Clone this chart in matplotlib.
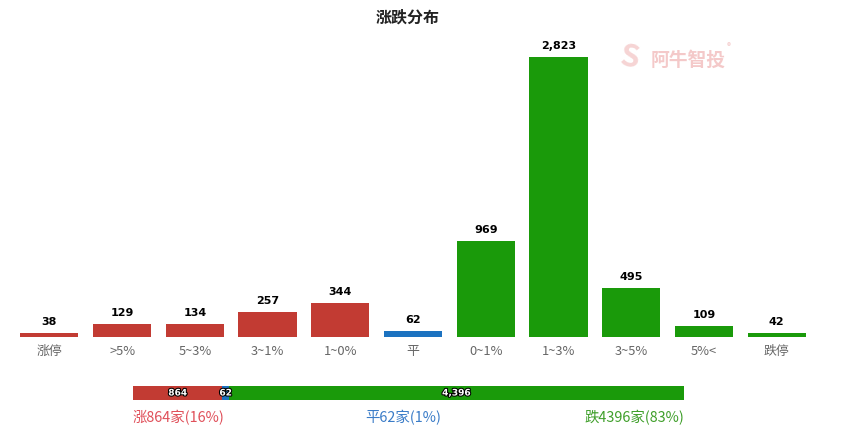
import numpy as np
import matplotlib.pyplot as plt
import matplotlib.patheffects as pe

plt.rcParams['font.family'] = ['Noto Sans CJK SC', 'DejaVu Sans']

categories = ['涨停', '>5%', '5~3%', '3~1%', '1~0%', '平', '0~1%', '1~3%', '3~5%', '5%<', '跌停']
counts = [38, 129, 134, 257, 344, 62, 969, 2823, 495, 109, 42]
kinds = ['up'] * 5 + ['flat'] + ['down'] * 5

summary_names = ['涨', '平', '跌']
summary_counts = [864, 62, 4396]
summary_pct = [16, 1, 83]

RED = '#c23b33'
GREEN = '#1a9a0a'
BLUE = '#1c72c0'
colors = {'up': RED, 'flat': BLUE, 'down': GREEN}

W, H = 849, 445
fig = plt.figure(figsize=(W / 100, H / 100), dpi=100)

# main bar chart
ax = fig.add_axes([13 / W, 1 - 337 / H, 800 / W, 297.6 / H])
x = np.arange(len(categories))
bars = ax.bar(x, counts, width=0.8, color=[colors[k] for k in kinds])
for xi, v in zip(x, counts):
    ax.text(xi, v + 60, f'{v:,}', ha='center', va='bottom', fontsize=8,
            fontweight='bold', color='black', family='DejaVu Sans')
ax.set_xlim(-0.5, len(categories) - 0.5)
ax.set_ylim(0, 3000)
ax.set_xticks(x)
ax.set_xticklabels(categories, fontsize=9.3, color='#666666')
ax.tick_params(axis='x', length=0, pad=6)
ax.set_yticks([])
for s in ax.spines.values():
    s.set_visible(False)

fig.text(408 / W, 1 - 18 / H, '涨跌分布', ha='center', va='center',
         fontsize=11.5, fontweight='bold', color='#222222')

# watermark
fig.text(651 / W, 1 - 60 / H, '阿牛智投', ha='left', va='center',
         fontsize=13.5, fontweight='bold', color='#f4c9c9')
fig.text(727 / W, 1 - 47 / H, '®', ha='left', va='center',
         fontsize=6, color='#f4c9c9')
fig.text(630 / W, 1 - 58 / H, 'S', ha='center', va='center',
         fontsize=22, fontweight='bold', color='#f6d4d4', rotation=-10)

# summary bar
bx = fig.add_axes([133 / W, 1 - 400 / H, 551 / W, 14 / H])
left = 0
sum_colors = [RED, BLUE, GREEN]
for n, c in zip(summary_counts, sum_colors):
    bx.barh(0, n, left=left, height=1, color=c)
    bx.text(left + n / 2, 0, f'{n:,}', ha='center', va='center', fontsize=6.5,
            fontweight='bold', color='white', family='DejaVu Sans',
            path_effects=[pe.withStroke(linewidth=1.5, foreground='black')])
    left += n
bx.set_xlim(0, sum(summary_counts))
bx.set_ylim(-0.5, 0.5)
bx.axis('off')

label_cols = ['#e0505a', '#3a7cc8', '#3f9f2a']
ly = 1 - 418 / H
fig.text(133 / W, ly, f'{summary_names[0]}{summary_counts[0]}家({summary_pct[0]}%)',
         ha='left', va='center', fontsize=10.4, color=label_cols[0])
fig.text(403 / W, ly, f'{summary_names[1]}{summary_counts[1]}家({summary_pct[1]}%)',
         ha='center', va='center', fontsize=10.4, color=label_cols[1])
fig.text(684 / W, ly, f'{summary_names[2]}{summary_counts[2]}家({summary_pct[2]}%)',
         ha='right', va='center', fontsize=10.4, color=label_cols[2])

fig.savefig('out.png', dpi=100)
